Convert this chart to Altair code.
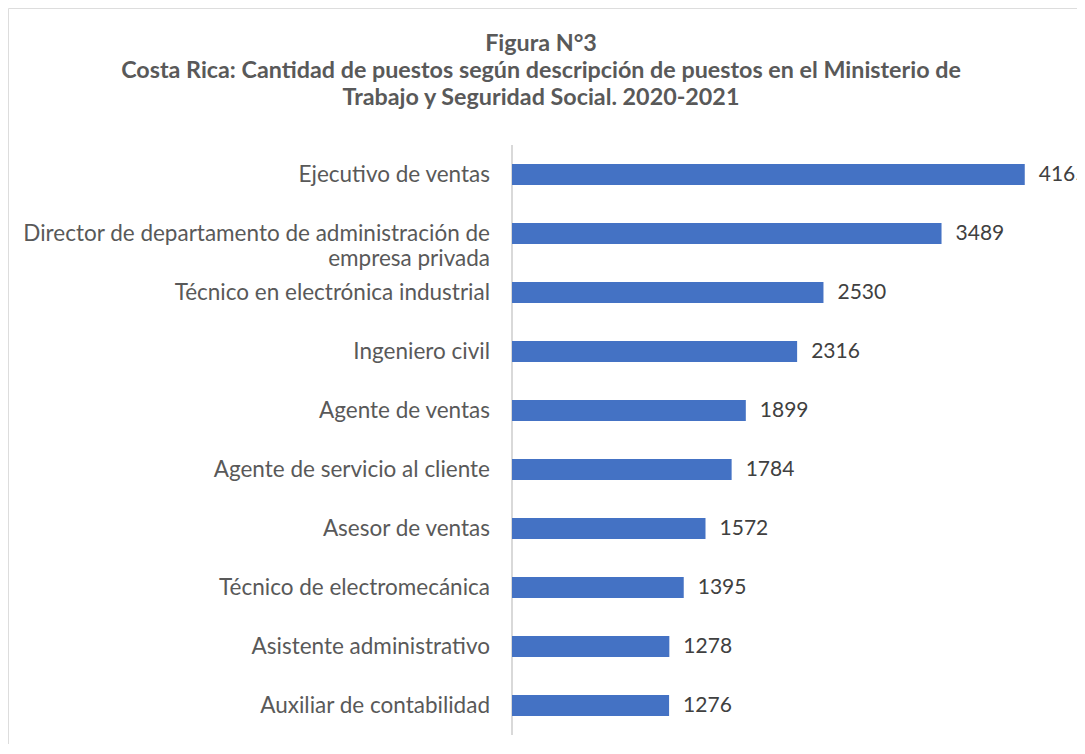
import altair as alt
import pandas as pd

categories = [
    "Ejecutivo de ventas",
    "Director de departamento de administración de|empresa privada",
    "Técnico en electrónica industrial",
    "Ingeniero civil",
    "Agente de ventas",
    "Agente de servicio al cliente",
    "Asesor de ventas",
    "Técnico de electromecánica",
    "Asistente administrativo",
    "Auxiliar de contabilidad",
]
values = [4165, 3489, 2530, 2316, 1899, 1784, 1572, 1395, 1278, 1276]
title_lines = [
    "Figura N°3",
    "Costa Rica: Cantidad de puestos según descripción de puestos en el Ministerio de",
    "Trabajo y  Seguridad Social. 2020-2021",
]

df = pd.DataFrame({"cat": categories, "val": values, "zero": [0] * len(values)})

FONT = "Lato"
W, H = 1069, 736

xs = alt.Scale(domain=[0, 4500], range=[504, 1058])
ys = alt.Scale(domain=categories, range=[137, 727], paddingInner=0.64, paddingOuter=0.32)

base = alt.Chart(df)

bars = base.mark_bar(color="#4472C4").encode(
    x=alt.X("val:Q", scale=xs, axis=None),
    x2="zero:Q",
    y=alt.Y("cat:N", scale=ys, axis=None, sort=categories),
)

vals = base.mark_text(align="left", baseline="middle", dx=14, font=FONT,
                      fontSize=21, color="#404040").encode(
    x=alt.X("val:Q", scale=xs, axis=None),
    y=alt.Y("cat:N", scale=ys, sort=categories, axis=None),
    text="val:Q",
)

labels = base.mark_text(align="right", baseline="middle", dx=-22, font=FONT,
                        fontSize=22.5, color="#595959", lineBreak="|",
                        lineHeight=25).encode(
    x=alt.X("zero:Q", scale=xs, axis=None),
    y=alt.Y("cat:N", scale=ys, sort=categories, axis=None),
    text="cat:N",
)

axis_line = base.mark_rule(color="#D9D9D9", strokeWidth=1.5).encode(
    x=alt.X("zero:Q", scale=xs, axis=None),
    y=alt.value(137),
    y2=alt.value(727),
)

frame_top = base.mark_rule(color="#D9D9D9", strokeWidth=2).encode(
    x=alt.value(-2), x2=alt.value(W), y=alt.value(-3))
frame_left = base.mark_rule(color="#D9D9D9", strokeWidth=2).encode(
    x=alt.value(-2), y=alt.value(-3), y2=alt.value(H + 20))

title_layers = []
for line, ypos in zip(title_lines, [36, 63, 90]):
    title_layers.append(
        alt.Chart(pd.DataFrame({"t": [line]})).mark_text(
            align="center", baseline="middle", font=FONT, fontSize=23.3,
            fontWeight="bold", color="#595959").encode(
            x=alt.value(533), y=alt.value(ypos), text="t:N")
    )

chart = alt.layer(frame_top, frame_left, axis_line, bars, vals, labels, *title_layers).properties(
    width=W, height=H, padding=0, autosize=alt.AutoSizeParams(type="none"),
).configure_view(stroke=None).configure(background="white")

chart.save("out.html", embed_options={"renderer": "svg", "actions": False})
